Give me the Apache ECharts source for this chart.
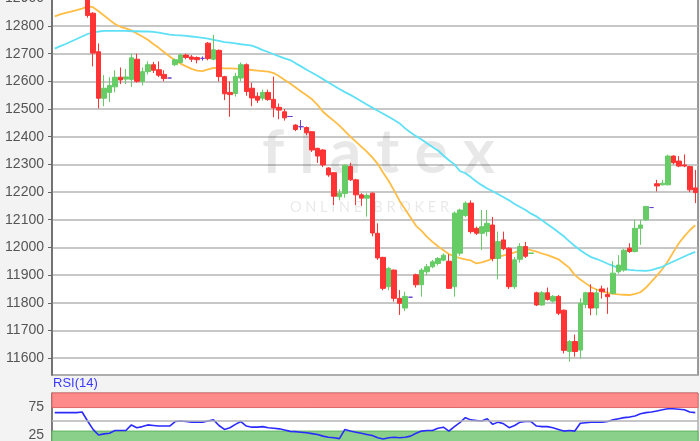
<!DOCTYPE html>
<html><head><meta charset="utf-8">
<script src="https://cdn.jsdelivr.net/npm/echarts@6/dist/echarts.min.js"></script>
<style>html,body{margin:0;padding:0;background:#f3f3f3;}#c{width:700px;height:441px;}</style>
</head><body><div id="c"></div>
<script>
const opens = [12955,12925,12960,12945,12970,12950,
12910,12846,12707,12539,12560,12580,12615,12608,12607,12680,12600,12635,12660,12642,12625,12612,12660,12668,12695,12688,12686,12683,12738,12680,
12712,12617,12560,12556,12612,12660,12575,12546,12539,12560,12535,12506,12490,12473,12442,12436,12433,12418,12358,12352,
12287,12270,12183,12195,12292,12244,12190,12178,12196,12051,11964,11858,11918,11816,11781,11820,11901,11865,11912,11930,
11942,11954,11950,11858,11979,12115,12160,12069,12051,12057,12081,11960,12027,11997,11858,11957,12003,11978,11836,11792,
11836,11806,11823,11773,11624,11660,11629,11794,11836,11781,11850,11830,11834,11912,11918,11997,11985,12069,12100,12144,
12230,12226,12226,12330,12312,12298,12292,12215];
const closes = [12965,12960,12945,12970,12950,12960,
12838,12702,12539,12575,12585,12615,12605,12616,12685,12600,12635,12660,12640,12622,12610,12612,12678,12695,12686,12680,12678,12683,12682,12714,
12617,12555,12552,12618,12660,12563,12540,12532,12560,12534,12504,12496,12468,12473,12426,12436,12414,12352,12330,12298,
12262,12185,12196,12297,12244,12190,12178,12188,12052,11962,11852,11924,11816,11798,11823,11820,11865,11918,11930,11948,
11960,11972,11852,12124,12135,12160,12057,12051,12075,12087,11960,12021,11995,11858,11955,12003,11968,11980,11792,11836,
11812,11823,11762,11628,11660,11624,11798,11836,11781,11836,11840,11822,11907,11936,11990,11985,12069,12081,12148,12144,
12222,12232,12330,12306,12294,12294,12208,12198];
const lows = [12945,12895,12938,12940,12942,12940,
12830,12654,12502,12510,12525,12560,12590,12590,12580,12595,12585,12625,12630,12615,12600,12612,12655,12665,12680,12670,12665,12675,12676,12676,
12600,12532,12472,12545,12600,12548,12510,12522,12530,12530,12470,12463,12458,12473,12420,12424,12405,12345,12305,12290,
12255,12153,12170,12180,12240,12153,12150,12111,12040,11955,11845,11845,11804,11756,11770,11820,11855,11822,11900,11925,
11935,11950,11850,11822,11970,12110,12050,12045,11990,12040,11950,11885,11990,11850,11850,11945,11962,11978,11788,11790,
11808,11800,11755,11617,11587,11605,11599,11780,11755,11755,11815,11760,11830,11905,11912,11980,11982,12009,12095,12144,
12202,12224,12224,12300,12290,12290,12200,12160];
const highs = [12975,12970,12975,12980,12978,12972,
12935,12850,12737,12623,12615,12640,12650,12645,12700,12700,12650,12672,12670,12672,12640,12612,12682,12700,12700,12695,12690,12690,12742,12768,
12715,12620,12600,12630,12668,12665,12595,12560,12570,12570,12617,12520,12500,12473,12445,12460,12437,12420,12360,12355,
12290,12272,12210,12300,12306,12248,12196,12196,12198,12087,11966,11930,11920,11846,11840,11820,11905,11925,11940,11955,
11965,11978,11975,12130,12140,12166,12170,12075,12135,12135,12110,12057,12057,12000,11965,12015,12020,11980,11840,11842,
11855,11828,11828,11776,11665,11685,11816,11840,11867,11850,11862,11855,11950,11972,11995,12015,12100,12100,12150,12144,
12244,12244,12335,12333,12330,12336,12295,12280];
const maFast = [12835,12842,12847,12852,12857,12863,12871,12868,12853,12838,12822,12807,12797,12791,12784,12773,12762,12750,12735,12721,
12705,12690,12675,12664,12654,12645,12639,12637,12643,12649,12648,12647,12647,12646,12645,12643,12641,12639,12637,12635,
12630,12618,12605,12592,12578,12563,12550,12535,12515,12490,12473,12457,12440,12420,12400,12382,12364,12346,12325,12302,
12270,12240,12205,12168,12138,12108,12078,12060,12038,12020,12004,11990,11976,11968,11961,11957,11953,11942,11946,11952,
11960,11966,11971,11976,11982,11988,11996,11990,11985,11978,11972,11965,11957,11942,11926,11900,11884,11870,11856,11848,
11841,11836,11832,11830,11829,11828,11832,11838,11855,11876,11898,11922,11950,11983,12015,12040,12062,12080];
const maSlow = [12718,12727,12735,12744,12753,12762,12771,12777,12780,12782,12782,12782,12782,12782,12781,12781,12780,12780,12779,12776,
12772,12769,12767,12766,12764,12762,12760,12757,12754,12750,12746,12742,12740,12737,12734,12732,12729,12722,12713,12706,
12698,12690,12683,12677,12665,12654,12642,12631,12620,12608,12596,12584,12572,12561,12551,12540,12528,12516,12505,12494,
12483,12472,12460,12448,12430,12415,12402,12390,12376,12363,12350,12332,12315,12300,12276,12268,12254,12238,12225,12213,
12203,12192,12181,12170,12157,12146,12135,12122,12112,12098,12084,12070,12055,12040,12022,12005,11990,11976,11965,11958,
11950,11941,11933,11926,11922,11919,11917,11916,11915,11918,11924,11930,11940,11949,11958,11967,11976,11984];
const rsi = [65,65,65,65,65,66,50,35,25,27,28,33,33,33,43,38,40,43,42,41,
41,41,49,50,49,48,48,48,50,52,42,35,38,44,49,41,39,39,40,38,
37,36,34,31.5,31,30,29,27.5,26,23,21,20,18.5,35,32,30,28,26,24,20,
18,20,21,20,21,23,28,32,33,33,37,39,32,40,47,56,52,51,50,54,
44,48,45,38,42,48,49,49,41,40,40,38,35,32,33,32,46,47,48,48,
48,49,52,54,56,57,59,63,65,66,68,70,72,72,71,70,66,65];
const categories = opens.map((_, i) => 'D' + (i + 1));
const rsiLabels = [25, 75];

const UP = '#66cc66', DOWN = '#ff3333', FLAT = '#6a3fd0';
const candleData = opens.map((o, i) => {
  const item = { value: [o, closes[i], lows[i], highs[i]] };
  if (o === closes[i]) item.itemStyle = { color: FLAT, color0: FLAT, borderColor: FLAT, borderColor0: FLAT };
  return item;
});

const chart = echarts.init(document.getElementById('c'), null, { renderer: 'canvas' });
chart.setOption({
  animation: false,
  backgroundColor: '#f3f3f3',
  grid: [
    { left: 52, right: 2, top: -10, bottom: 66, show: true, outerBoundsMode: 'none', containLabel: false,
      backgroundColor: '#ffffff', borderColor: '#7a7a7a', borderWidth: 1.5 },
    { left: 52, right: 2, top: 393, height: 56, show: true, outerBoundsMode: 'none', containLabel: false,
      backgroundColor: '#ffffff', borderColor: '#888', borderWidth: 1 }
  ],
  xAxis: [
    { type: 'category', data: categories, gridIndex: 0, boundaryGap: true, axisLine: { show: false }, axisTick: { show: false }, axisLabel: { show: false }, splitLine: { show: false } },
    { type: 'category', data: categories, gridIndex: 1, boundaryGap: true, axisLine: { show: false }, axisTick: { show: false }, axisLabel: { show: false }, splitLine: { show: false } }
  ],
  yAxis: [
    { type: 'value', gridIndex: 0, min: 11539, max: 12930, splitNumber: 14,
      axisLine: { show: true, lineStyle: { color: '#666', width: 1.5 } },
      axisTick: { show: true, length: 4, lineStyle: { color: '#666' } },
      axisLabel: { color: '#555', fontSize: 14, fontFamily: 'Liberation Sans, Arial', margin: 8, showMinLabel: false, showMaxLabel: false,
        formatter: v => String(v) },
      splitLine: { show: true, lineStyle: { color: '#b4b4b4', width: 1.5 } } },
    { type: 'value', gridIndex: 1, min: 0, max: 100, interval: 25,
      axisLine: { show: true, lineStyle: { color: '#666', width: 1.5 } },
      axisTick: { show: false },
      axisLabel: { color: '#555', fontSize: 14, fontFamily: 'Liberation Sans, Arial', margin: 8,
        formatter: v => rsiLabels.indexOf(v) >= 0 ? String(v) : '' },
      splitLine: { show: false } }
  ],
  graphic: [
    { type: 'text', left: 262, top: 122, z: 1, silent: true,
      style: { text: 'f l a t e x', fontSize: 62, fontWeight: 'bold', fontFamily: 'Lato, Noto Sans', fill: 'rgba(0,0,0,0.09)' } },
    { type: 'text', left: 290, top: 200, z: 1, silent: true,
      style: { text: 'O N L I N E   B R O K E R', fontSize: 14.5, fontFamily: 'Lato, Noto Sans', fill: 'rgba(0,0,0,0.09)' } },
    { type: 'text', left: 53, top: 377, z: 5, silent: true,
      style: { text: 'RSI(14)', fontSize: 13, fontFamily: 'Liberation Sans, Arial', fill: '#3a3aff' } }
  ],
  series: [
    { type: 'candlestick', name: 'Kurs', xAxisIndex: 0, yAxisIndex: 0, data: candleData, barWidth: 5, clip: true, z: 3,
      itemStyle: { color: UP, color0: DOWN, borderColor: UP, borderColor0: DOWN, borderWidth: 1 } },
    { type: 'line', name: 'MA1', xAxisIndex: 0, yAxisIndex: 0, data: maFast, symbol: 'none', z: 2,
      lineStyle: { color: '#ffbd45', width: 1.8 } },
    { type: 'line', name: 'MA2', xAxisIndex: 0, yAxisIndex: 0, data: maSlow, symbol: 'none', z: 2,
      lineStyle: { color: '#5ee0f5', width: 1.8 } },
    { type: 'line', name: 'RSI', xAxisIndex: 1, yAxisIndex: 1, data: rsi, symbol: 'none', z: 4,
      lineStyle: { color: '#2b2bff', width: 1.6 },
      markLine: { silent: true, symbol: 'none', label: { show: false },
        lineStyle: { color: '#b4b4b4', width: 1.5, type: 'solid' }, data: [{ yAxis: 50 }] },
      markArea: { silent: true, data: [
        [{ yAxis: 74, itemStyle: { color: '#ff8a8a', borderColor: '#e06666', borderWidth: 1 } }, { yAxis: 100 }],
        [{ yAxis: 0, itemStyle: { color: '#8ad08a', borderColor: '#5fb55f', borderWidth: 1 } }, { yAxis: 32 }]
      ] } }
  ]
});
</script></body></html>
